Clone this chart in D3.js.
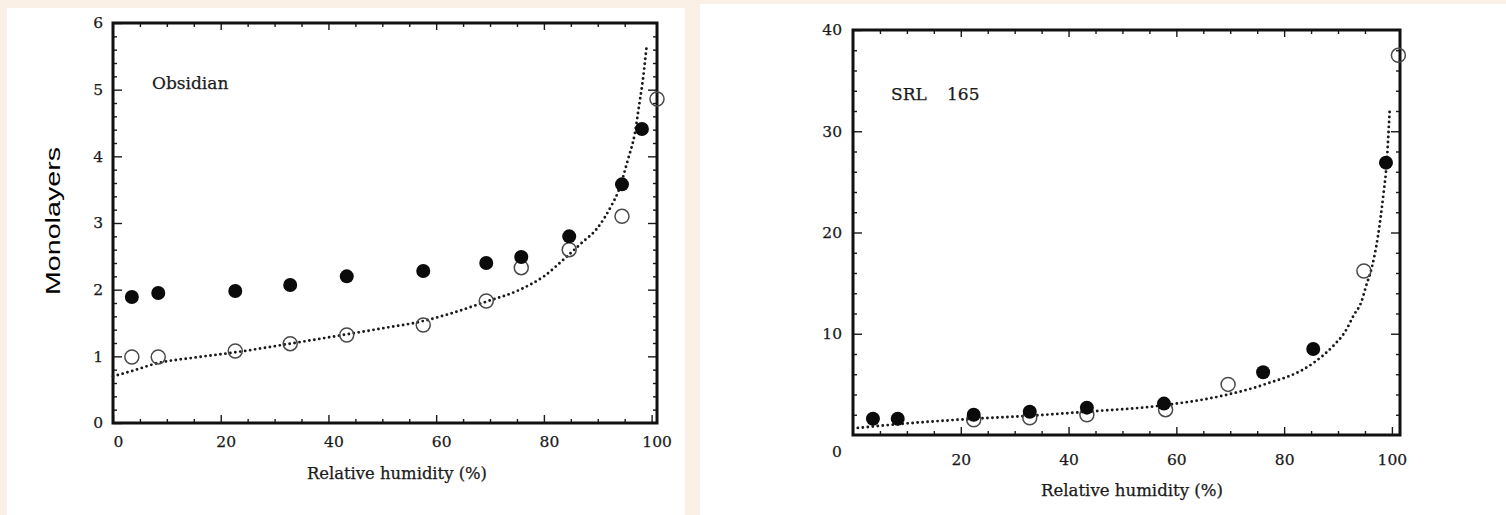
<!DOCTYPE html>
<html>
<head>
    <script src="https://cdnjs.cloudflare.com/ajax/libs/d3/7.8.5/d3.min.js"></script>
    <style>
        body, html {
            margin: 0;
            padding: 0;
            background: #faf0e6;
            overflow: hidden;
        }
        svg { display: block; }
        .domain { display: none; }
        .tick line { stroke: #1a1a1a; stroke-width: 1.4px; }
        .tick text, .note, .xlabel {
            font-family: "DejaVu Serif", "Liberation Serif", serif;
            fill: #1a1a1a;
            stroke: #1a1a1a;
            stroke-width: 0.25px;
        }
        .tick text { font-size: 15.5px; }
        .note { font-size: 17px; }
        .xlabel { font-size: 16px; }
        .ylabel {
            font-family: "Liberation Sans", Arial, sans-serif;
            font-size: 20px;
            fill: #000;
        }
    </style>
</head>
<body>
    <svg></svg>
    <script>
        // tick labels
        const xTickLabels = [0, 20, 40, 60, 80, 100];
        const obsYTickLabels = [0, 1, 2, 3, 4, 5, 6];
        const srlYTickLabels = [10, 20, 30, 40];

        // Obsidian panel (monolayers vs relative humidity)
        const obsFilledRH = [3.5, 8.4, 22.7, 32.9, 43.4, 57.6, 69.3, 75.8, 84.7, 94.5, 98.2];
        const obsFilled   = [1.89, 1.95, 1.98, 2.07, 2.2, 2.28, 2.4, 2.49, 2.8, 3.58, 4.41];
        const obsOpenRH   = [3.5, 8.4, 22.7, 32.9, 43.4, 57.6, 69.3, 75.8, 84.7, 94.5, 101];
        const obsOpen     = [0.99, 0.99, 1.08, 1.19, 1.32, 1.47, 1.83, 2.33, 2.6, 3.1, 4.86];
        const obsFitRH    = [0, 3.5, 8.4, 15, 22.7, 32.9, 43.4, 50, 57.6, 63, 69.3, 75, 80, 84.3, 87, 89.9, 92.6, 93.8, 95.6, 96.9, 97.8, 98.2, 99.1];
        const obsFit      = [0.70, 0.78, 0.90, 0.98, 1.06, 1.19, 1.33, 1.42, 1.53, 1.65, 1.82, 1.98, 2.2, 2.5, 2.7, 2.92, 3.27, 3.47, 3.95, 4.35, 4.83, 5.04, 5.67];

        // SRL 165 panel
        const srlFilledRH = [3.7, 8.3, 22.4, 32.8, 43.4, 57.7, 76.1, 85.4, 98.9];
        const srlFilled   = [1.6, 1.6, 2.0, 2.3, 2.7, 3.1, 6.2, 8.5, 26.9];
        const srlOpenRH   = [22.4, 32.8, 43.4, 58, 69.6, 94.8, 101.2];
        const srlOpen     = [1.5, 1.7, 2.0, 2.5, 5.0, 16.2, 37.5];
        const srlFitRH    = [0.9, 11.3, 22.4, 32.8, 43.4, 57.1, 69.6, 76.1, 85.4, 89.3, 91.2, 93, 94.3, 95.2, 96.3, 97.4, 98.5, 98.9, 99.6];
        const srlFit      = [0.7, 1.2, 1.6, 1.9, 2.3, 2.9, 4.0, 4.95, 7.1, 8.9, 10.1, 11.9, 13.1, 14.7, 16.6, 19.6, 24.1, 26, 32.2];

        const width = 1506;
        const height = 515;

        const svg = d3.select("svg")
            .attr("width", width)
            .attr("height", height);

        svg.append("rect").attr("width", width).attr("height", height).attr("fill", "#faf0e6");
        // the two white scanned sheets
        svg.append("rect").attr("x", 7).attr("y", 8).attr("width", 678).attr("height", 507).attr("fill", "#fff");
        svg.append("rect").attr("x", 700).attr("y", 4).attr("width", 806).attr("height", 511).attr("fill", "#fff");

        function drawPanel(p) {
            const x = d3.scaleLinear().domain(p.xDomain).range([p.left, p.right]);
            const y = d3.scaleLinear().domain(p.yDomain).range([p.bottom, p.top]);
            const g = svg.append("g");

            // minor ticks on all four sides, pointing inward
            g.append("g").attr("transform", `translate(0,${p.bottom})`)
                .call(d3.axisBottom(x).tickValues(p.xMinor).tickSize(-4).tickFormat(""));
            g.append("g").attr("transform", `translate(0,${p.top})`)
                .call(d3.axisTop(x).tickValues(p.xMinor).tickSize(-4).tickFormat(""));
            g.append("g").attr("transform", `translate(${p.left},0)`)
                .call(d3.axisLeft(y).tickValues(p.yMinor).tickSize(-4).tickFormat(""));
            g.append("g").attr("transform", `translate(${p.right},0)`)
                .call(d3.axisRight(y).tickValues(p.yMinor).tickSize(-4).tickFormat(""));

            // major ticks with labels
            g.append("g").attr("transform", `translate(0,${p.bottom})`)
                .call(d3.axisBottom(x).tickValues(p.xMajor).tickSize(-8).tickPadding(p.xPad).tickFormat(d3.format("d")))
                .selectAll("text").attr("dx", p.xLabelShift);
            g.append("g").attr("transform", `translate(0,${p.top})`)
                .call(d3.axisTop(x).tickValues(p.xMajor.filter(d => d > 0 && d < 100)).tickSize(-7).tickFormat(""));
            g.append("g").attr("transform", `translate(${p.left},0)`)
                .call(d3.axisLeft(y).tickValues(p.yMajor).tickSize(-9).tickPadding(p.yPad).tickFormat(d3.format("d")));
            g.append("g").attr("transform", `translate(${p.right},0)`)
                .call(d3.axisRight(y).tickValues(p.yMajor.filter(d => d > 0 && d < p.yDomain[1])).tickSize(-9).tickFormat(""));

            // frame
            g.append("rect")
                .attr("x", p.left).attr("y", p.top)
                .attr("width", p.right - p.left).attr("height", p.bottom - p.top)
                .attr("fill", "none").attr("stroke", "#111").attr("stroke-width", 3);

            // fitted isotherm, dotted
            const line = d3.line()
                .x(d => x(d[0]))
                .y(d => y(d[1]))
                .curve(d3.curveMonotoneX);
            g.append("path")
                .datum(d3.zip(p.fitRH, p.fit))
                .attr("d", line)
                .attr("fill", "none")
                .attr("stroke", "#1a1a1a")
                .attr("stroke-width", 2.9)
                .attr("stroke-linecap", "round")
                .attr("stroke-dasharray", "0 5");

            // open circles
            g.append("g").selectAll("circle")
                .data(d3.zip(p.openRH, p.open))
                .join("circle")
                .attr("cx", d => x(d[0]))
                .attr("cy", d => y(d[1]))
                .attr("r", 7)
                .attr("fill", "none")
                .attr("stroke", "#4a4a4a")
                .attr("stroke-width", 1.5);

            // filled circles
            g.append("g").selectAll("circle")
                .data(d3.zip(p.filledRH, p.filled))
                .join("circle")
                .attr("cx", d => x(d[0]))
                .attr("cy", d => y(d[1]))
                .attr("r", 7)
                .attr("fill", "#0b0b0b");

            g.append("text")
                .attr("class", "xlabel")
                .attr("x", p.xLabelX).attr("y", p.xLabelY)
                .attr("text-anchor", "middle")
                .attr("textLength", p.xLabelLen)
                .attr("lengthAdjust", "spacingAndGlyphs")
                .text("Relative humidity (%)");

            return { g, x, y };
        }

        const obs = drawPanel({
            left: 113, right: 657, top: 23, bottom: 423,
            xDomain: [0, 101], yDomain: [0, 6],
            xMajor: xTickLabels, yMajor: obsYTickLabels,
            xMinor: d3.range(5, 100, 5).filter(d => d % 20 !== 0),
            yMinor: d3.range(1, 30).map(d => d / 5).filter(d => !Number.isInteger(d)),
            xPad: 13, yPad: 10, xLabelShift: 5,
            filledRH: obsFilledRH, filled: obsFilled,
            openRH: obsOpenRH, open: obsOpen,
            fitRH: obsFitRH, fit: obsFit,
            xLabelX: 397, xLabelY: 479, xLabelLen: 180
        });
        obs.g.append("text").attr("class", "note").attr("x", 152).attr("y", 89).text("Obsidian");

        const srl = drawPanel({
            left: 853, right: 1400, top: 30, bottom: 435,
            xDomain: [0, 101.5], yDomain: [0, 40],
            xMajor: xTickLabels.filter(d => d > 0), yMajor: srlYTickLabels,
            xMinor: d3.range(5, 100, 5).filter(d => d % 20 !== 0),
            yMinor: d3.range(2, 40, 2).filter(d => d % 10 !== 0),
            xPad: 19, yPad: 11, xLabelShift: 0,
            filledRH: srlFilledRH, filled: srlFilled,
            openRH: srlOpenRH, open: srlOpen,
            fitRH: srlFitRH, fit: srlFit,
            xLabelX: 1132, xLabelY: 496, xLabelLen: 182
        });
        srl.g.append("text").attr("class", "note").attr("x", 891).attr("y", 100).text("SRL");
        srl.g.append("text").attr("class", "note").attr("x", 947).attr("y", 100).text("165");
        // shared origin label sits below-left of the corner
        srl.g.append("text").attr("class", "note").style("font-size", "15.5px")
            .attr("x", 837).attr("y", 457).attr("text-anchor", "middle").text("0");

        svg.append("text")
            .attr("class", "ylabel")
            .attr("transform", "translate(60,221) rotate(-90)")
            .attr("text-anchor", "middle")
            .attr("textLength", 148)
            .attr("lengthAdjust", "spacingAndGlyphs")
            .text("Monolayers");
    </script>
</body>
</html>
